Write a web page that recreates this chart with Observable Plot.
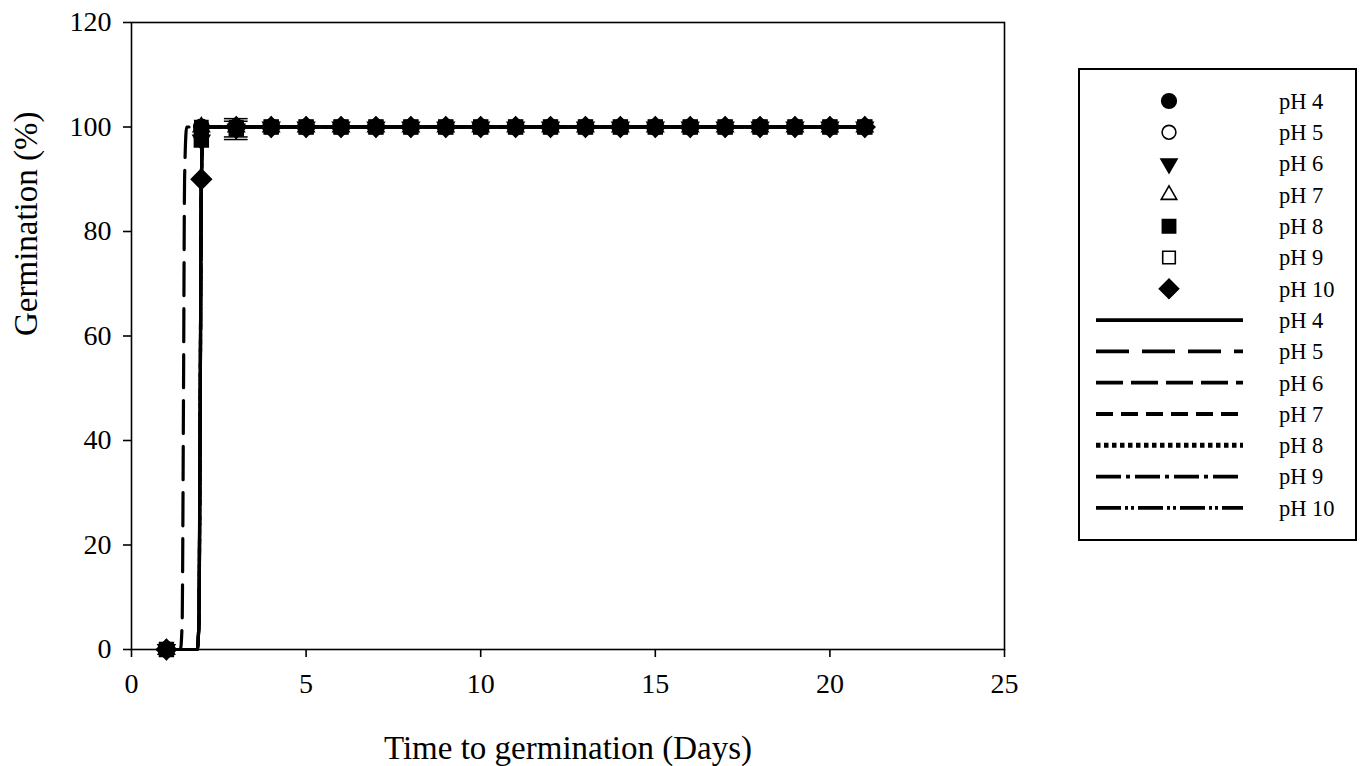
<!DOCTYPE html>
<html><head><meta charset="utf-8">
<script src="https://cdn.jsdelivr.net/npm/d3@7"></script>
<script src="https://cdn.jsdelivr.net/npm/@observablehq/plot@0.6"></script>
<style>
body{margin:0;background:#fff;}
#wrap{position:relative;width:1364px;height:766px;font-family:"Liberation Serif","Times New Roman",serif;}
#legend{position:absolute;left:1078px;top:68px;}
</style></head><body><div id="wrap"></div>
<script>
// ---------------- data ----------------
const series = ["pH 4", "pH 5", "pH 6", "pH 7", "pH 8", "pH 9", "pH 10"];
const days = [1, 2, 3, 4, 5, 6, 7, 8, 9, 10, 11, 12, 13, 14, 15, 16, 17, 18, 19, 20, 21];
const germ_pH4  = [0, 100, 100, 100, 100, 100, 100, 100, 100, 100, 100, 100, 100, 100, 100, 100, 100, 100, 100, 100, 100];
const germ_pH5  = [0, 100, 100, 100, 100, 100, 100, 100, 100, 100, 100, 100, 100, 100, 100, 100, 100, 100, 100, 100, 100];
const germ_pH6  = [0, 97.5, 99.6, 100, 100, 100, 100, 100, 100, 100, 100, 100, 100, 100, 100, 100, 100, 100, 100, 100, 100];
const germ_pH7  = [0, 100, 100, 100, 100, 100, 100, 100, 100, 100, 100, 100, 100, 100, 100, 100, 100, 100, 100, 100, 100];
const germ_pH8  = [0, 97.5, 99.6, 100, 100, 100, 100, 100, 100, 100, 100, 100, 100, 100, 100, 100, 100, 100, 100, 100, 100];
const germ_pH9  = [0, 100, 100, 100, 100, 100, 100, 100, 100, 100, 100, 100, 100, 100, 100, 100, 100, 100, 100, 100, 100];
const germ_pH10 = [0, 90, 100, 100, 100, 100, 100, 100, 100, 100, 100, 100, 100, 100, 100, 100, 100, 100, 100, 100, 100];
// standard errors (0 = none drawn)
const err_pH6 = [0, 0, 1.5, 0, 0, 0, 0, 0, 0, 0, 0, 0, 0, 0, 0, 0, 0, 0, 0, 0, 0];
const err_pH8 = [0, 0, 2.0, 0, 0, 0, 0, 0, 0, 0, 0, 0, 0, 0, 0, 0, 0, 0, 0, 0, 0];
// fitted curves
const fitX_pH5  = [1, 1.40, 1.45, 1.49, 1.52, 1.58, 21];
const fitX_late = [1, 1.88, 1.93, 1.97, 2.0, 2.06, 21];
const fitY      = [0, 0, 5, 50, 90, 100, 100];
const ticksX = [0, 5, 10, 15, 20, 25];
const ticksY = [0, 20, 40, 60, 80, 100, 120];
const xTitle = "Time to germination (Days)";
const yTitle = "Germination (%)";

// ---------------- tables ----------------
const germ = {"pH 4": germ_pH4, "pH 5": germ_pH5, "pH 6": germ_pH6, "pH 7": germ_pH7, "pH 8": germ_pH8, "pH 9": germ_pH9, "pH 10": germ_pH10};
const errs = {"pH 6": err_pH6, "pH 8": err_pH8};
const points = series.flatMap(s => days.map((d, i) => ({series: s, day: d, g: germ[s][i], err: errs[s] ? errs[s][i] : 0})));
const fits = series.flatMap(s => (s === "pH 5" ? fitX_pH5 : fitX_late).map((x, i) => ({series: s, x, y: fitY[i]})));
const errRows = points.filter(d => d.err > 0);

// ---------------- styles ----------------
const sym = {
  "pH 4":  {symbol: "circle",   r: 7.6, rotate: 0,   fill: "black"},
  "pH 5":  {symbol: "circle",   r: 7.2, rotate: 0,   fill: "white"},
  "pH 6":  {symbol: "triangle", r: 6.2, rotate: 180, fill: "black"},
  "pH 7":  {symbol: "triangle", r: 6.0, rotate: 0,   fill: "white"},
  "pH 8":  {symbol: "square",   r: 7.8, rotate: 0,   fill: "black"},
  "pH 9":  {symbol: "square",   r: 7.4, rotate: 0,   fill: "white"},
  "pH 10": {symbol: "square",   r: 8.0, rotate: 45,  fill: "black"}
};
const dash = {
  "pH 4": null,
  "pH 5": "33,13",
  "pH 6": "27,8",
  "pH 7": "17,8",
  "pH 8": "4.5,3.5",
  "pH 9": "25,5,4,5",
  "pH 10": "25,4,3,3,3,4"
};
const drawOrder = ["pH 5", "pH 7", "pH 9", "pH 4", "pH 6", "pH 8", "pH 10"];

const chart = Plot.plot({
  width: 1364, height: 766,
  marginLeft: 131, marginRight: 360, marginTop: 22, marginBottom: 117,
  style: {fontFamily: "'Liberation Serif','Times New Roman',serif", background: "white", color: "black"},
  x: {domain: [0, 25]},
  y: {domain: [0, 120]},
  marks: [
    Plot.frame({stroke: "black", strokeWidth: 1.6}),
    Plot.axisX({ticks: ticksX, tickSize: 8, tickPadding: 16, fontSize: 28, label: null, strokeWidth: 1.6}),
    Plot.axisY({ticks: ticksY, tickSize: 8, tickPadding: 12, fontSize: 28, label: null, strokeWidth: 1.6}),
    ...series.map(s => Plot.line(fits.filter(d => d.series === s), {
      x: "x", y: "y", stroke: "black", strokeWidth: 3.2, curve: "monotone-x",
      strokeDasharray: dash[s]
    })),
    Plot.ruleX(errRows, {x: "day", y1: d => d.g - d.err, y2: d => d.g + d.err, stroke: "black", strokeWidth: 1.5}),
    Plot.ruleY(errRows, {y: d => d.g + d.err, x1: d => d.day - 0.34, x2: d => d.day + 0.34, stroke: "black", strokeWidth: 1.5}),
    Plot.ruleY(errRows, {y: d => d.g - d.err, x1: d => d.day - 0.34, x2: d => d.day + 0.34, stroke: "black", strokeWidth: 1.5}),
    ...drawOrder.map(s => Plot.dot(points.filter(d => d.series === s), {
      x: "day", y: "g", symbol: sym[s].symbol, r: sym[s].r, rotate: sym[s].rotate,
      fill: sym[s].fill, stroke: "black", strokeWidth: 1.6
    })),
    Plot.text([xTitle], {frameAnchor: "bottom", dy: 99, fontSize: 33, text: d => d, lineAnchor: "middle"}),
    Plot.text([yTitle], {frameAnchor: "left", dx: -105, rotate: -90, fontSize: 33, text: d => d, lineAnchor: "middle"})
  ]
});
document.getElementById("wrap").appendChild(chart);

// ---------------- legend ----------------
const lw = 280, lh = 474;
const leg = d3.create("svg").attr("id", "legend").attr("width", lw).attr("height", lh)
  .style("font-family", "'Liberation Serif','Times New Roman',serif");
leg.append("rect").attr("x", 1).attr("y", 1).attr("width", lw - 3).attr("height", lh - 3)
  .attr("fill", "white").attr("stroke", "black").attr("stroke-width", 2);
const rowY = i => 33 + i * 31.3;
const symMap = {circle: d3.symbolCircle, triangle: d3.symbolTriangle, square: d3.symbolSquare};
series.forEach((s, i) => {
  const c = sym[s];
  const size = Math.PI * c.r * c.r * 0.92;
  leg.append("path").attr("d", d3.symbol(symMap[c.symbol], size)())
    .attr("transform", `translate(91,${rowY(i)}) rotate(${c.rotate})`)
    .attr("fill", c.fill).attr("stroke", "black").attr("stroke-width", 1.6);
  leg.append("text").attr("x", 201).attr("y", rowY(i)).attr("dy", "0.35em")
    .attr("font-size", 22.5).text(s);
});
series.forEach((s, j) => {
  const i = j + 7;
  leg.append("line").attr("x1", 18).attr("x2", 165).attr("y1", rowY(i)).attr("y2", rowY(i))
    .attr("stroke", "black").attr("stroke-width", s === "pH 8" ? 5 : 3.8)
    .attr("stroke-dasharray", dash[s]);
  leg.append("text").attr("x", 201).attr("y", rowY(i)).attr("dy", "0.35em")
    .attr("font-size", 22.5).text(s);
});
document.getElementById("wrap").appendChild(leg.node());
</script>
</body></html>
